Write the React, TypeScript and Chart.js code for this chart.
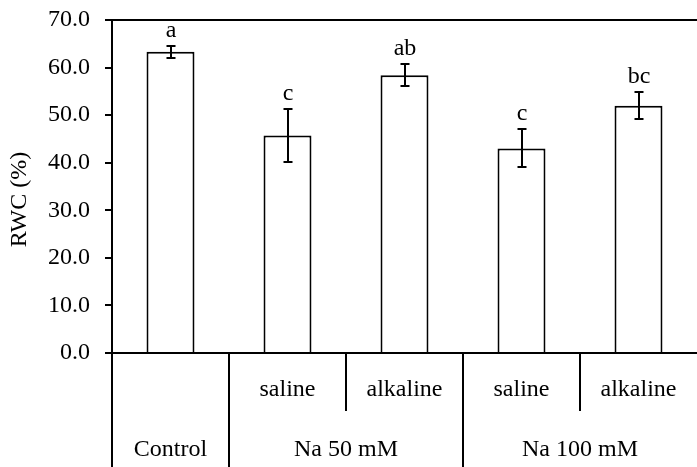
import React, { useEffect, useRef } from "react";
import { Chart, registerables } from "chart.js";

Chart.register(...registerables);

const categories = [
  "Control",
  "Na 50 mM saline",
  "Na 50 mM alkaline",
  "Na 100 mM saline",
  "Na 100 mM alkaline",
];
const rwcMeans = [63.3, 45.7, 58.4, 43.0, 52.0];
const rwcErrors = [1.3, 5.5, 2.3, 4.0, 2.8];
const sigLetters = ["a", "c", "ab", "c", "bc"];
const subLabels = ["", "saline", "alkaline", "saline", "alkaline"];
const groupLabels = ["Control", "Na 50 mM", "Na 100 mM"];
const groupFirst = [0, 1, 3];
const groupLast = [0, 2, 4];
const yMin = 0;
const yMax = 70;
const yStep = 10;
const yTitle = "RWC (%)";

const FAMILY = "'Liberation Serif', 'Times New Roman', serif";
const FONT = "24px " + FAMILY;

const overlay = {
  id: "overlay",
  afterDatasetsDraw(chart: any) {
    const { ctx, chartArea } = chart;
    const x = chart.scales.x;
    const y = chart.scales.y;
    const W = chart.width;
    const H = chart.height;
    ctx.save();
    ctx.strokeStyle = "#000";
    ctx.fillStyle = "#000";
    ctx.lineWidth = 2;

    // top and bottom frame lines
    ctx.beginPath();
    ctx.moveTo(chartArea.left, Math.round(chartArea.top));
    ctx.lineTo(W, Math.round(chartArea.top));
    ctx.moveTo(chartArea.left, Math.round(chartArea.bottom));
    ctx.lineTo(W, Math.round(chartArea.bottom));
    ctx.stroke();

    // error bars and letters
    ctx.font = FONT;
    ctx.textAlign = "center";
    ctx.textBaseline = "alphabetic";
    for (let i = 0; i < rwcMeans.length; i++) {
      const cx = Math.round(x.getPixelForValue(i));
      const yt = Math.round(y.getPixelForValue(rwcMeans[i] + rwcErrors[i]));
      const yb = Math.round(y.getPixelForValue(rwcMeans[i] - rwcErrors[i]));
      ctx.beginPath();
      ctx.moveTo(cx, yt);
      ctx.lineTo(cx, yb);
      ctx.moveTo(cx - 4.5, yt);
      ctx.lineTo(cx + 4.5, yt);
      ctx.moveTo(cx - 4.5, yb);
      ctx.lineTo(cx + 4.5, yb);
      ctx.stroke();
      ctx.fillText(sigLetters[i], cx, yt - 9);
    }

    // bottom table
    const bottom = Math.round(chartArea.bottom);
    const midY = bottom + 58;
    const boundary = (i: number) =>
      Math.round((x.getPixelForValue(i) + x.getPixelForValue(i + 1)) / 2);
    ctx.beginPath();
    ctx.moveTo(Math.round(chartArea.left), bottom);
    ctx.lineTo(Math.round(chartArea.left), H);
    for (let i = 0; i < categories.length - 1; i++) {
      const bx = boundary(i);
      const isGroupEdge = groupLast.indexOf(i) >= 0;
      ctx.moveTo(bx, bottom);
      ctx.lineTo(bx, isGroupEdge ? H : midY);
    }
    ctx.stroke();

    for (let i = 0; i < subLabels.length; i++) {
      if (!subLabels[i]) continue;
      ctx.fillText(subLabels[i], x.getPixelForValue(i), bottom + 43);
    }
    for (let g = 0; g < groupLabels.length; g++) {
      const cx =
        (x.getPixelForValue(groupFirst[g]) + x.getPixelForValue(groupLast[g])) / 2;
      ctx.fillText(groupLabels[g], cx, bottom + 103);
    }

    // y title
    ctx.translate(20, (chartArea.top + chartArea.bottom) / 2 + 13);
    ctx.rotate(-Math.PI / 2);
    ctx.textBaseline = "middle";
    ctx.fillText(yTitle, 0, 0);
    ctx.restore();
  },
};

export default function App() {
  const ref = useRef<HTMLCanvasElement | null>(null);
  useEffect(() => {
    if (!ref.current) return;
    const chart = new Chart(ref.current, {
      type: "bar",
      data: {
        labels: categories,
        datasets: [
          {
            data: rwcMeans,
            backgroundColor: "#ffffff",
            borderColor: "#000000",
            borderWidth: 2,
            barPercentage: 0.41,
            categoryPercentage: 1,
          },
        ],
      },
      options: {
        animation: false,
        responsive: true,
        maintainAspectRatio: false,
        layout: { padding: { top: 20, bottom: 114, left: 0, right: 0 } },
        plugins: { legend: { display: false }, tooltip: { enabled: false } },
        scales: {
          x: { display: false },
          y: {
            min: yMin,
            max: yMax,
            afterFit: (s: any) => {
              s.width = 112;
              s.paddingTop = 0;
              s.paddingBottom = 0;
            },
            ticks: {
              stepSize: yStep,
              padding: 15,
              color: "#000",
              font: { family: FAMILY, size: 24 },
              callback: (v: any) => Number(v).toFixed(1),
            },
            grid: {
              drawOnChartArea: false,
              drawTicks: true,
              tickLength: 7,
              color: "#000",
              lineWidth: 2,
            },
            border: { display: true, color: "#000", width: 2 },
          },
        },
      },
      plugins: [overlay],
    });
    return () => chart.destroy();
  }, []);
  return (
    <div style={{ position: "absolute", left: 0, top: 0, width: 697, height: 467, background: "#fff" }}>
      <canvas ref={ref} />
    </div>
  );
}
